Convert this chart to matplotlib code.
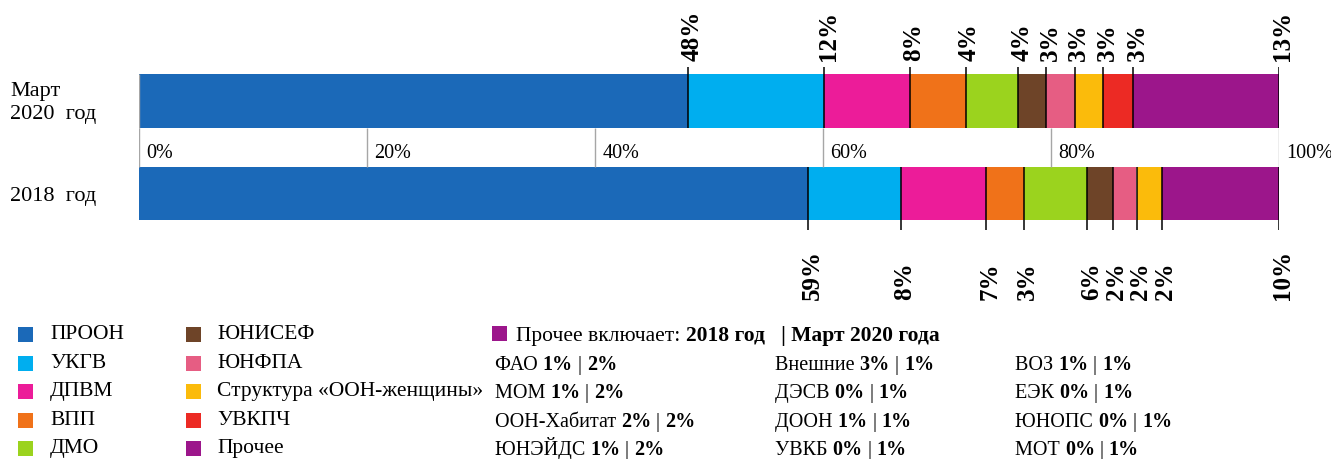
import matplotlib.pyplot as plt
from matplotlib.patches import Rectangle

plt.rcParams['font.family'] = ['Liberation Serif', 'DejaVu Serif']

# -----------------------------
# Data
# -----------------------------
agencies = ['ПРООН', 'УКГВ', 'ДПВМ', 'ВПП', 'ДМО',
            'ЮНИСЕФ', 'ЮНФПА', 'Структура «ООН-женщины»', 'УВКПЧ', 'Прочее']
colors = ['#1B69B8', '#00AEEF', '#EC1C99', '#F07219', '#9BD31E',
          '#6E4428', '#E65D83', '#FBBB0B', '#EC2A24', '#9C168B']

# shares (%)
share_2020 = [48.2, 11.9, 7.5, 4.9, 4.6, 2.5, 2.5, 2.5, 2.6, 12.8]
share_2018 = [58.7, 8.1, 7.5, 3.3, 5.6, 2.2, 2.1, 2.2, 0.0, 10.3]
labels_2020 = ['48%', '12%', '8%', '4%', '4%', '3%', '3%', '3%', '3%', '13%']
labels_2018 = ['59%', '8%', '7%', '3%', '6%', '2%', '2%', '2%', '', '10%']

ticks = [0, 20, 40, 60, 80, 100]

# "Прочее" breakdown: 2018 | March 2020
other_names = ['ФАО', 'МОМ', 'ООН-Хабитат', 'ЮНЭЙДС',
               'Внешние', 'ДЭСВ', 'ДООН', 'УВКБ',
               'ВОЗ', 'ЕЭК', 'ЮНОПС', 'МОТ']
other_2018 = [1, 1, 2, 1, 3, 0, 1, 0, 1, 0, 0, 0]
other_2020 = [2, 2, 2, 2, 1, 1, 1, 1, 1, 1, 1, 1]

# -----------------------------
# Figure
# -----------------------------
W, H = 1331, 460
fig = plt.figure(figsize=(W / 100, H / 100), dpi=100)

ax = fig.add_axes([139 / W, 0, 1140 / W, 1])
ax.set_xlim(0, 100)
ax.set_ylim(H, 0)
ax.axis('off')

ov = fig.add_axes([0, 0, 1, 1], zorder=-1)
ov.set_xlim(0, W)
ov.set_ylim(H, 0)
ov.axis('off')

# gridlines + tick labels in the gap between bars
ax.vlines(ticks, 129, 168, color='#A6A6A6', lw=1)
ax.vlines(0, 75, 129, color='#A6A6A6', lw=1)
for t in ticks:
    ax.text(t + 0.65, 154, f'{t}%', fontsize=14.5, va='center', ha='left')

bars = [
    (share_2020, labels_2020, 102, 54, 68, 129, 61),
    (share_2018, labels_2018, 194.5, 53, 168, 231, 300),
]
for shares, labels, yc, h, l0, l1, ylab in bars:
    left = 0
    for val, col, lab in zip(shares, colors, labels):
        if val <= 0:
            continue
        ax.barh(yc, val, left=left, height=h, color=col, lw=0)
        left += val
        ax.vlines(left, l0, l1, color='black', lw=1.1, zorder=3)
        ax.text(left + 0.35, ylab, lab, rotation=90, ha='center', va='bottom',
                fontsize=18, fontweight='bold')

# category labels
ov.text(10, 103, 'Март\n2020  год', fontsize=16, va='center', ha='left',
        linespacing=1.35)
ov.text(10, 197, '2018  год', fontsize=16, va='center', ha='left')

# -----------------------------
# Legend
# -----------------------------
row_y = [335, 364, 392, 421, 449]
for i, (name, col) in enumerate(zip(agencies, colors)):
    cx = 18 if i < 5 else 186
    tx = 50 if i < 5 else 217
    y = row_y[i % 5]
    ov.add_patch(Rectangle((cx, y - 7.5), 15, 15, color=col, lw=0))
    ov.text(tx, y, name, fontsize=15.5, va='center', ha='left')

fig.canvas.draw()
renderer = fig.canvas.get_renderer()


def rich(x, y, parts, size=14.5):
    for s, bold in parts:
        t = ov.text(x, y + 6.5, s, fontsize=size, va='baseline', ha='left',
                    fontweight='bold' if bold else 'normal')
        x = t.get_window_extent(renderer).x1


ov.add_patch(Rectangle((492, 327), 15, 15, color=colors[-1], lw=0))
rich(516, row_y[0], [('Прочее включает: ', False),
                     ('2018 год   | Март 2020 года', True)], size=15.5)

col_x = [495, 775, 1015]
for i, name in enumerate(other_names):
    x = col_x[i // 4]
    y = row_y[1 + i % 4]
    rich(x, y, [(name + ' ', False), (f'{other_2018[i]}%', True),
                (' | ', False), (f'{other_2020[i]}%', True)])

fig.savefig('out.png', dpi=100)
